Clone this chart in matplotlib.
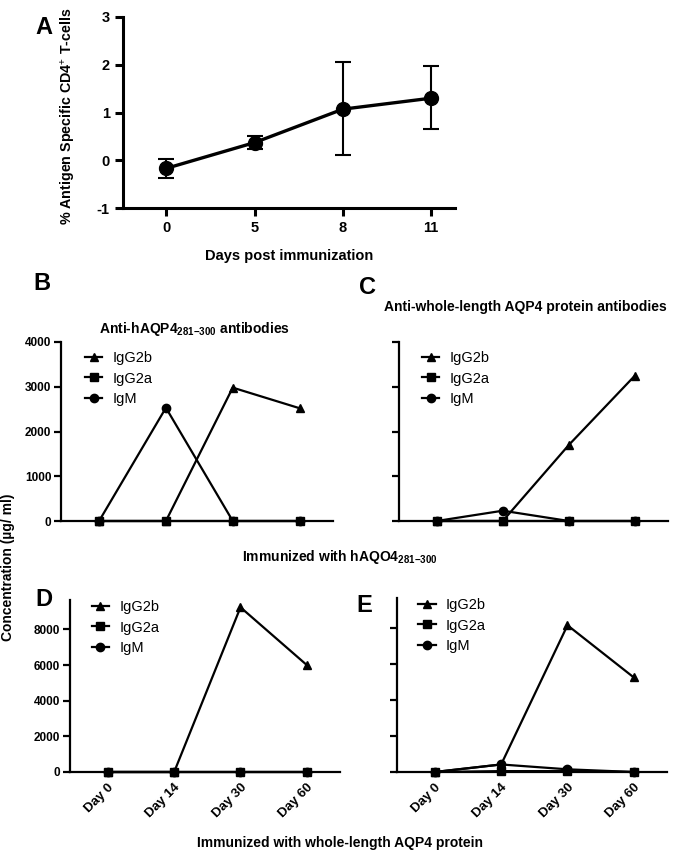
import matplotlib
matplotlib.use("Agg")
import matplotlib.pyplot as plt

plt.rcParams['font.family'] = ['Liberation Sans', 'DejaVu Sans']
plt.rcParams['mathtext.fontset'] = 'custom'
plt.rcParams['mathtext.rm'] = 'Liberation Sans'
plt.rcParams['mathtext.bf'] = 'Liberation Sans:bold'
plt.rcParams['axes.unicode_minus'] = False

# panel A
days_a = ["0", "5", "8", "11"]
cd4_mean = [-0.17, 0.37, 1.07, 1.30]
cd4_low = [-0.37, 0.24, 0.10, 0.65]
cd4_high = [0.02, 0.50, 2.05, 1.97]

# panels B-E
timepoints = ["Day 0", "Day 14", "Day 30", "Day 60"]
series = ["IgG2b", "IgG2a", "IgM"]
markers = {"IgG2b": "^", "IgG2a": "s", "IgM": "o"}

b_igg2b = [0, 0, 2980, 2520]
b_igg2a = [0, 0, 0, 0]
b_igm = [0, 2530, 0, 0]

c_igg2b = [0, 0, 1700, 3250]
c_igg2a = [0, 0, 0, 0]
c_igm = [0, 230, 0, 0]

d_igg2b = [0, 0, 9240, 6000]
d_igg2a = [0, 0, 0, 0]
d_igm = [0, 0, 0, 0]

e_igg2b = [0, 420, 8180, 5270]
e_igg2a = [0, 50, 50, 0]
e_igm = [0, 420, 150, 0]

W, H = 681, 850
fig = plt.figure(figsize=(6.81, 8.5), dpi=100)


def box(l, t, r, b):
    return [l / W, 1 - b / H, (r - l) / W, (b - t) / H]


def style(ax, lw=1.6):
    for s in ["top", "right"]:
        ax.spines[s].set_visible(False)
    for s in ["left", "bottom"]:
        ax.spines[s].set_linewidth(lw)
    ax.tick_params(axis="y", width=lw, length=5, labelsize=8.5, pad=2)
    for lab in ax.get_yticklabels():
        lab.set_fontweight("bold")


# ---- A
axA = fig.add_axes(box(123, 17, 455, 208))
xa = list(range(len(days_a)))
err = [[m - lo for m, lo in zip(cd4_mean, cd4_low)],
       [hi - m for m, hi in zip(cd4_mean, cd4_high)]]
axA.errorbar(xa, cd4_mean, yerr=err, color="black", lw=2.4, marker="o", ms=10,
             ecolor="black", elinewidth=1.5, capsize=6, capthick=1.5, clip_on=False)
axA.set_xlim(-0.49, 3.27)
axA.set_ylim(-1, 3)
axA.set_yticks([-1, 0, 1, 2, 3])
axA.set_xticks(xa)
axA.set_xticklabels(days_a)
for s in ["top", "right"]:
    axA.spines[s].set_visible(False)
for s in ["left", "bottom"]:
    axA.spines[s].set_linewidth(2.2)
axA.tick_params(width=2.2, length=6, labelsize=10.5)
for lab in axA.get_xticklabels() + axA.get_yticklabels():
    lab.set_fontweight("bold")
axA.set_xlabel("Days post immunization", fontsize=10.5, fontweight="bold", labelpad=10)
fig.text(68 / W, 1 - 116 / H, r"% Antigen Specific CD4$^{+}$ T-cells", rotation=90,
         ha="center", va="center", fontsize=10.3, fontweight="bold")
fig.text(35 / W, 1 - 28 / H, "A", fontsize=17, fontweight="bold", va="center")


def panel(rect, ymax, yticks, data, show_ylabels, xlabels, leg_anchor):
    ax = fig.add_axes(box(*rect))
    x = list(range(len(timepoints)))
    order = {"IgG2b": 2, "IgM": 3, "IgG2a": 4}
    for name, vals in zip(series, data):
        ax.plot(x, vals, color="black", lw=1.6, marker=markers[name], ms=6,
                label=name, zorder=order[name], clip_on=False)
    ax.set_xlim(-0.57, 3.5)
    ax.set_ylim(0, ymax)
    ax.set_yticks(yticks)
    style(ax)
    if not show_ylabels:
        ax.set_yticklabels([])
    if xlabels:
        ax.set_xticks(x)
        ax.set_xticklabels(timepoints, rotation=45, ha="right", rotation_mode="anchor",
                           fontsize=9.5, fontweight="bold")
        ax.tick_params(axis="x", length=0, pad=7)
    else:
        ax.set_xticks([])
    ax.legend(loc="upper left", bbox_to_anchor=leg_anchor, frameon=False,
              borderpad=0, borderaxespad=0, handlelength=1.2, handletextpad=0.7,
              labelspacing=0.45, prop={"size": 10.5})
    return ax


panel((61, 342, 333, 521), 4000, [0, 1000, 2000, 3000, 4000],
      [b_igg2b, b_igg2a, b_igm], True, False, (0.088, 0.95))
panel((399, 342, 668, 521), 4000, [0, 1000, 2000, 3000, 4000],
      [c_igg2b, c_igg2a, c_igm], False, False, (0.085, 0.95))
panel((70, 600, 340, 772), 9650, [0, 2000, 4000, 6000, 8000],
      [d_igg2b, d_igg2a, d_igm], True, True, (0.08, 1.0))
panel((397, 598, 667, 772), 9700, [0, 2000, 4000, 6000, 8000],
      [e_igg2b, e_igg2a, e_igm], False, True, (0.078, 1.0))

fig.text(195 / W, 1 - 329 / H, r"Anti-hAQP4$_{\mathbf{281{-}300}}$ antibodies",
         ha="center", va="center", fontsize=10, fontweight="bold")
fig.text(525 / W, 1 - 307 / H, "Anti-whole-length AQP4 protein antibodies",
         ha="center", va="center", fontsize=10, fontweight="bold")
fig.text(340 / W, 1 - 557 / H, r"Immunized with hAQO4$_{\mathbf{281{-}300}}$",
         ha="center", va="center", fontsize=10, fontweight="bold")
fig.text(340 / W, 1 - 843 / H, "Immunized with whole-length AQP4 protein",
         ha="center", va="center", fontsize=10, fontweight="bold")
fig.text(8 / W, 1 - 567 / H, "Concentration (µg/ ml)", rotation=90,
         ha="center", va="center", fontsize=10, fontweight="bold")

for lbl, xx, yy in [("B", 33, 283), ("C", 359, 288), ("D", 35, 599), ("E", 356, 605)]:
    fig.text(xx / W, 1 - yy / H, lbl, fontsize=17, fontweight="bold", va="center")

fig.savefig("out.png", dpi=100)
